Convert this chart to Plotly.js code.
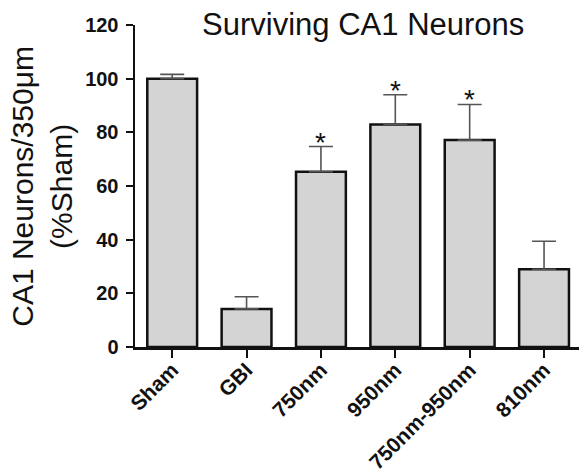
<!DOCTYPE html>
<html>
<head>
<meta charset="utf-8">
<script src="https://cdn.plot.ly/plotly-3.0.1.min.js"></script>
<style>
  html, body { margin: 0; padding: 0; background: #fff; }
  #chart { width: 579px; height: 474px; }
</style>
</head>
<body>
<div id="chart"></div>
<script>
// Treatment groups and surviving CA1 neuron counts (% of sham), mean + SEM
const groups = ['Sham', 'GBI', '750nm', '950nm', '750nm-950nm', '810nm'];
const meanPct = [100, 14.2, 65.3, 82.9, 77.1, 29.0];
const semPct = [1.6, 4.5, 9.4, 11.1, 13.3, 10.4];
const significant = [false, false, true, true, true, false];
const yTicks = [0, 20, 40, 60, 80, 100, 120];

const FONT = 'Liberation Sans, Arial, Helvetica, sans-serif';

const bars = {
  type: 'bar',
  x: groups,
  y: meanPct,
  width: 0.67,
  marker: { color: '#d4d4d4', line: { color: '#111', width: 2.5 } },
  error_y: {
    type: 'data',
    symmetric: false,
    array: semPct,
    arrayminus: groups.map(() => 0),
    color: '#555',
    thickness: 1.6,
    width: 12
  },
  hoverinfo: 'none'
};

// Asterisks over the groups that differ from GBI
const stars = [];
groups.forEach((g, i) => {
  if (significant[i]) {
    stars.push({
      x: g, y: meanPct[i] + semPct[i], xref: 'x', yref: 'y',
      text: '*', showarrow: false, yanchor: 'bottom', yshift: -13,
      font: { family: FONT, size: 28, color: '#111' }
    });
  }
});

const yTitle = {
  xref: 'paper', yref: 'paper', x: -0.21, y: 0.5,
  xanchor: 'center', yanchor: 'middle', textangle: -90,
  text: 'CA1 Neurons/350μm<br>(%Sham)', showarrow: false,
  font: { family: FONT, size: 30, color: '#111' }
};

const layout = {
  width: 579, height: 474,
  margin: { l: 135, r: 0, t: 25, b: 127 },
  paper_bgcolor: '#fff', plot_bgcolor: '#fff',
  showlegend: false,
  title: {
    text: 'Surviving CA1 Neurons',
    xref: 'paper', x: 0.514, xanchor: 'center',
    yref: 'container', y: 0.95, yanchor: 'middle',
    font: { family: FONT, size: 31, color: '#111' }
  },
  xaxis: {
    type: 'category',
    range: [-0.5, 5.47],
    showline: true, linecolor: '#111', linewidth: 2.5,
    ticks: 'outside', ticklen: 8, tickwidth: 2, tickcolor: '#111',
    tickangle: -45,
    ticklabelstandoff: -8,
    tickfont: { family: FONT, size: 21, color: '#111', weight: 'bold' },
    showgrid: false, zeroline: false, fixedrange: true
  },
  yaxis: {
    range: [0, 120],
    tickvals: yTicks,
    showline: true, linecolor: '#111', linewidth: 2.5,
    ticks: 'outside', ticklen: 7, tickwidth: 2, tickcolor: '#111',
    ticklabelstandoff: 3,
    tickfont: { family: FONT, size: 20, color: '#111', weight: 'bold' },
    showgrid: false, zeroline: false, fixedrange: true
  },
  annotations: stars.concat([yTitle])
};

Plotly.newPlot('chart', [bars], layout, { displayModeBar: false, staticPlot: true });
</script>
</body>
</html>
